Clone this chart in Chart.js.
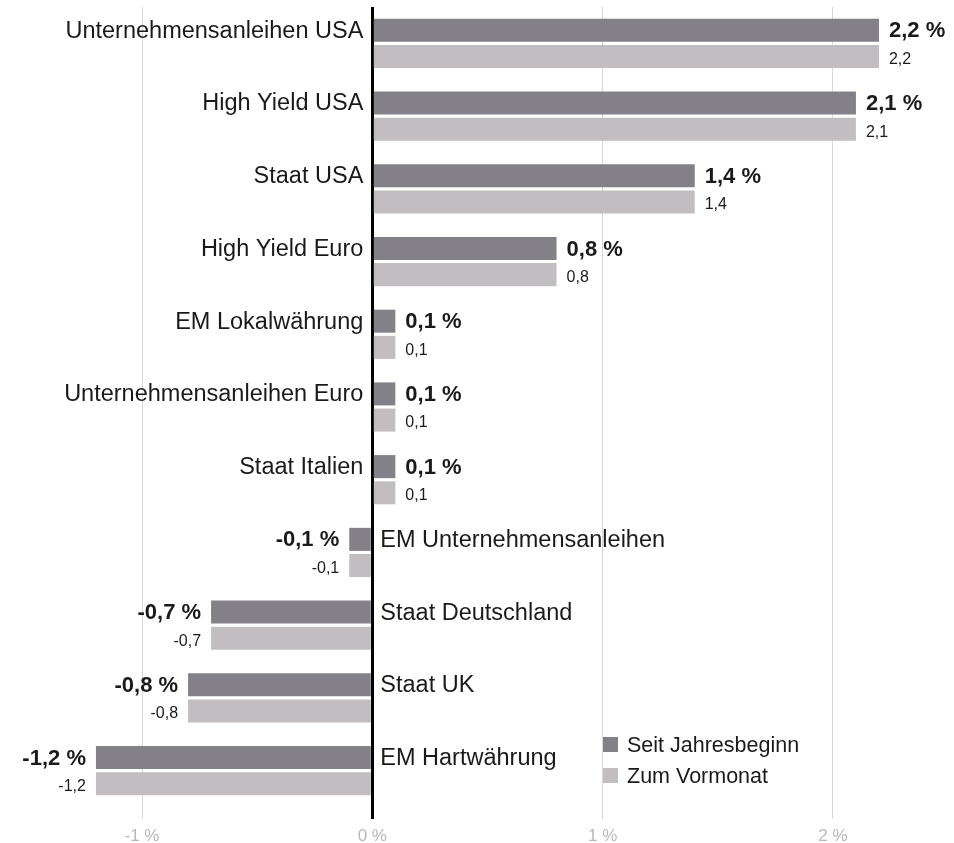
<!DOCTYPE html>
<html>
<head>
<meta charset="utf-8">
<script src="https://cdn.jsdelivr.net/npm/chart.js@4/dist/chart.umd.min.js"></script>
<style>
  html, body { margin: 0; padding: 0; background: #fff; }
  #wrap { width: 954px; height: 843px; position: relative; }
</style>
</head>
<body>
<div id="wrap"><canvas id="renditenChart" width="954" height="843"></canvas></div>
<script>
// Daten
const categories = [
  'Unternehmensanleihen USA', 'High Yield USA', 'Staat USA', 'High Yield Euro',
  'EM Lokalwährung', 'Unternehmensanleihen Euro', 'Staat Italien',
  'EM Unternehmensanleihen', 'Staat Deutschland', 'Staat UK', 'EM Hartwährung'
];
const seitJahresbeginn = [2.2, 2.1, 1.4, 0.8, 0.1, 0.1, 0.1, -0.1, -0.7, -0.8, -1.2];
const zumVormonat = [2.2, 2.1, 1.4, 0.8, 0.1, 0.1, 0.1, -0.1, -0.7, -0.8, -1.2];
const seriesNames = ['Seit Jahresbeginn', 'Zum Vormonat'];
const tickValues = [-1, 0, 1, 2];

const darkGrey = '#838187';
const lightGrey = '#c1bdc0';
const textColor = '#1a1a1a';
const fontFamily = '"Liberation Sans", Arial, Helvetica, sans-serif';

const fmt = v => v.toFixed(1).replace('.', ',');

// Beschriftungen: Kategorien an der Nulllinie, Werte am Balkenende
const labelPlugin = {
  id: 'labels',
  afterDatasetsDraw(chart) {
    const ctx = chart.ctx;
    const x = chart.scales.x;
    const zero = x.getPixelForValue(0);
    const dark = chart.getDatasetMeta(0).data;
    const light = chart.getDatasetMeta(1).data;
    ctx.save();
    ctx.fillStyle = textColor;
    ctx.textBaseline = 'middle';
    categories.forEach((cat, i) => {
      const v = seitJahresbeginn[i];
      const yd = dark[i].y;
      const yl = light[i].y;
      // Kategorie
      ctx.font = '23.5px ' + fontFamily;
      if (v >= 0) {
        ctx.textAlign = 'right';
        ctx.fillText(cat, zero - 9, yd + 1);
      } else {
        ctx.textAlign = 'left';
        ctx.fillText(cat, zero + 8, yd + 1);
      }
      // Werte
      const endD = dark[i].x;
      const endL = light[i].x;
      ctx.font = 'bold 22px ' + fontFamily;
      ctx.textAlign = v >= 0 ? 'left' : 'right';
      ctx.fillText(fmt(v) + ' %', v >= 0 ? endD + 10 : endD - 10, yd + 1);
      ctx.font = '16px ' + fontFamily;
      const w = zumVormonat[i];
      ctx.textAlign = w >= 0 ? 'left' : 'right';
      ctx.fillText(fmt(w), w >= 0 ? endL + 10 : endL - 10, yl + 3);
    });
    // Legende
    const colors = [darkGrey, lightGrey];
    ctx.font = '21.5px ' + fontFamily;
    ctx.textAlign = 'left';
    seriesNames.forEach((name, i) => {
      const ly = 745 + i * 31;
      ctx.fillStyle = colors[i];
      ctx.fillRect(603, ly - 8, 15, 15);
      ctx.fillStyle = textColor;
      ctx.fillText(name, 627, ly + 1);
    });
    ctx.restore();
  }
};

const chartData = {
  labels: categories,
  datasets: [
    { label: seriesNames[0], data: seitJahresbeginn, backgroundColor: darkGrey },
    { label: seriesNames[1], data: zumVormonat, backgroundColor: lightGrey }
  ]
};

const chartConfig = {
  type: 'bar',
  data: chartData,
  plugins: [labelPlugin],
  options: {
    indexAxis: 'y',
    responsive: false,
    animation: false,
    events: [],
    datasets: { bar: { categoryPercentage: 0.72, barPercentage: 0.88 } },
    layout: { padding: { top: 7, left: 0, right: 0, bottom: -11 } },
    plugins: { legend: { display: false }, tooltip: { enabled: false } },
    scales: {
      y: { display: false },
      x: {
        min: -372.3 / 230.3,
        max: 581.7 / 230.3,
        afterBuildTicks(scale) {
          scale.ticks = tickValues.map(v => ({ value: v }));
        },
        border: { display: false },
        grid: {
          color: c => (c.tick && c.tick.value === 0) ? '#000' : '#d8d8d8',
          lineWidth: c => (c.tick && c.tick.value === 0) ? 3 : 1,
          tickLength: 12,
          drawTicks: true
        },
        ticks: {
          color: '#b8b8b8',
          font: { family: fontFamily, size: 17, lineHeight: 1 },
          padding: 9,
          callback: v => v + ' %'
        }
      }
    }
  }
};

const renditenChart = new Chart(document.getElementById('renditenChart'), chartConfig);
</script>
</body>
</html>
